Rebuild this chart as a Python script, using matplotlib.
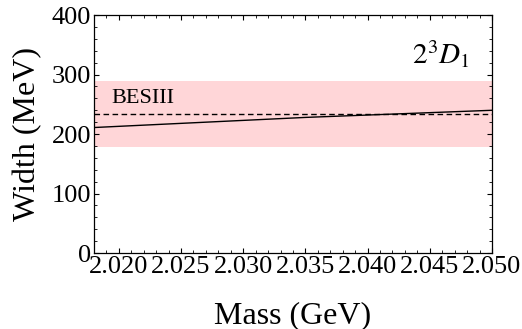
import numpy as np
import matplotlib.pyplot as plt
from matplotlib.ticker import MultipleLocator, FormatStrFormatter

plt.rcParams['font.family'] = 'Liberation Serif'
plt.rcParams['mathtext.fontset'] = 'stix'

# model width vs mass
mass = [2.018, 2.025, 2.030, 2.035, 2.040, 2.045, 2.050]
width = [211, 218, 223, 228, 232, 236, 240]

# BESIII measurement
besiii_width = 234
besiii_err = 56

fig = plt.figure(figsize=(5.22, 3.29), dpi=100)
ax = fig.add_axes([0.180, 0.231, 0.7625, 0.723])

ax.axhspan(besiii_width - besiii_err, besiii_width + besiii_err,
           color='#FFD6D8', lw=0, zorder=0)
ax.axhline(besiii_width, color='black', ls=(0, (4, 2.5)), lw=1.0)
ax.plot(mass, width, color='black', lw=1.0)

ax.text(2.0194, 252, 'BESIII', fontsize=16)
ax.text(0.80, 0.795, r'$2^3D_1$', transform=ax.transAxes, fontsize=21)

ax.set_xlim(2.018, 2.050)
ax.set_ylim(0, 400)
ax.xaxis.set_major_locator(MultipleLocator(0.005))
ax.xaxis.set_minor_locator(MultipleLocator(0.001))
ax.xaxis.set_major_formatter(FormatStrFormatter('%.3f'))
ax.yaxis.set_major_locator(MultipleLocator(100))
ax.yaxis.set_minor_locator(MultipleLocator(20))
ax.tick_params(which='both', direction='in', top=True, right=True,
               labelsize=19, pad=2)
ax.tick_params(which='major', length=3.5, width=0.8)
ax.tick_params(which='minor', length=2, width=0.6)
for s in ax.spines.values():
    s.set_linewidth(0.9)

ax.set_xlabel('Mass (GeV)', fontsize=23, labelpad=17)
ax.set_ylabel('Width (MeV)', fontsize=23, labelpad=7)

fig.savefig('out.png', dpi=100)
